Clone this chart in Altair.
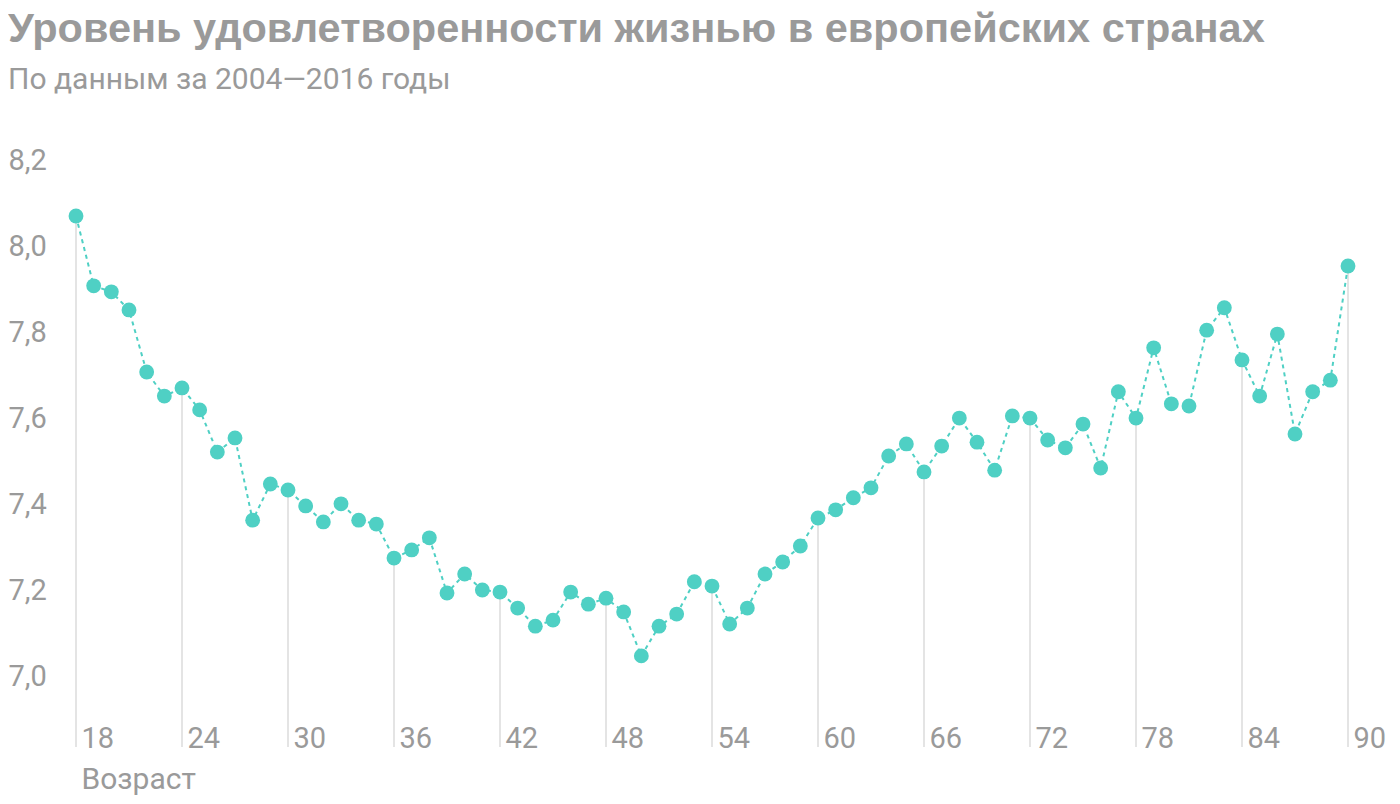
import altair as alt
import pandas as pd

ages = list(range(18, 91))
satisfaction = [
    8.070, 7.908, 7.894, 7.852, 7.708, 7.652, 7.671, 7.620, 7.522, 7.555,
    7.364, 7.448, 7.434, 7.397, 7.360, 7.402, 7.364, 7.355, 7.276, 7.295,
    7.323, 7.195, 7.239, 7.202, 7.197, 7.160, 7.118, 7.132, 7.197, 7.169,
    7.183, 7.151, 7.049, 7.118, 7.146, 7.221, 7.211, 7.123, 7.160, 7.239,
    7.267, 7.304, 7.369, 7.388, 7.416, 7.439, 7.513, 7.541, 7.476, 7.536,
    7.601, 7.545, 7.480, 7.606, 7.601, 7.550, 7.532, 7.587, 7.485, 7.662,
    7.601, 7.764, 7.634, 7.629, 7.805, 7.857, 7.736, 7.652, 7.796, 7.564,
    7.662, 7.689, 7.954,
]
x_ticks = [18, 24, 30, 36, 42, 48, 54, 60, 66, 72, 78, 84, 90]
y_ticks = [7.0, 7.2, 7.4, 7.6, 7.8, 8.0, 8.2]

df = pd.DataFrame({"age": ages, "value": satisfaction})

TEAL = "#4fd0c4"
GREY = "#9a9a9a"
FONT = "Roboto"
TITLE_FONT = "Liberation Sans"
Y_MIN = 6.8375
Y_MAX = 8.2

x_enc = alt.X(
    "age:Q",
    scale=alt.Scale(domain=[18, 90], nice=False, zero=False),
    axis=alt.Axis(
        values=x_ticks,
        title="Возраст",
        grid=False,
        domain=False,
        ticks=False,
        tickSize=0,
        labelAlign="left",
        labelBaseline="alphabetic",
        labelPadding=0,
        labelOffset=5,
        labelFontSize=29,
        labelColor=GREY,
        labelFont=FONT,
        titleFont=FONT,
        titleFontSize=30,
        titleFontWeight="normal",
        titleColor=GREY,
        titleAlign="left",
        titleAnchor="start",
        titleBaseline="alphabetic",
        titleX=5,
        titleY=41,
    ),
)
y_scale = alt.Scale(domain=[Y_MIN, Y_MAX], nice=False, zero=False)
y_enc = alt.Y(
    "value:Q",
    scale=y_scale,
    axis=alt.Axis(
        values=y_ticks,
        title=None,
        grid=False,
        domain=False,
        ticks=False,
        tickSize=0,
        labelAlign="left",
        labelBaseline="middle",
        labelPadding=68,
        labelFontSize=29,
        labelColor=GREY,
        labelFont=FONT,
        labelExpr="replace(format(datum.value, '.1f'), '.', ',')",
    ),
)

base = alt.Chart(df)

rules = base.transform_filter(
    "datum.age % 6 == 0"
).mark_rule(color="#e4e4e4", strokeWidth=2).encode(
    x=x_enc,
    y=alt.Y("value:Q", scale=y_scale),
    y2=alt.Y2Datum(Y_MIN),
)

line = base.mark_line(color=TEAL, strokeWidth=2, strokeDash=[4, 4]).encode(
    x=x_enc, y=y_enc
)

points = base.mark_circle(color=TEAL, opacity=1, size=220).encode(
    x=x_enc, y=y_enc
)

chart = (
    alt.layer(rules, line, points)
    .properties(
        width=1272,
        height=587,
        background="white",
        padding={"left": 0, "top": 0, "right": 0, "bottom": 6},
        title=alt.Title(
            "Уровень удовлетворенности жизнью в европейских странах",
            subtitle="По данным за 2004—2016 годы",
            anchor="start",
            frame="group",
            dx=-68,
            offset=51,
            font=TITLE_FONT,
            fontSize=41.5,
            fontWeight="bold",
            color=GREY,
            subtitleFont=FONT,
            subtitleFontSize=30,
            subtitleColor=GREY,
            subtitlePadding=15,
        ),
    )
    .configure_view(strokeWidth=0, stroke="transparent")
)

chart.save("out.html", embed_options={"renderer": "svg", "actions": False})
